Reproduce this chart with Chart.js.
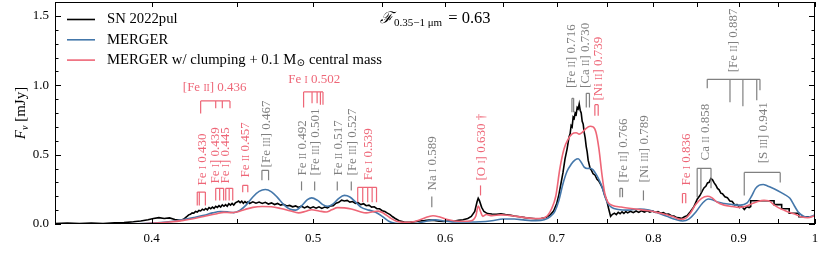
<!DOCTYPE html>
<html>
<head>
<meta charset="utf-8">
<script src="https://cdn.jsdelivr.net/npm/chart.js@4.4.0/dist/chart.umd.min.js"></script>
<style>
html, body { margin: 0; padding: 0; background: #fff; }
</style>
</head>
<body>
<canvas id="spec" width="831" height="271"></canvas>
<script>
// observed spectrum, wavelength in micron / flux in mJy
var obsWave = [0.350, 0.356, 0.362, 0.368, 0.374, 0.380, 0.385, 0.390, 0.394, 0.398,
  0.401, 0.404, 0.407, 0.410, 0.413, 0.416, 0.418, 0.420, 0.421, 0.422,
  0.423, 0.424, 0.425, 0.426, 0.427, 0.428, 0.429, 0.430, 0.431, 0.432,
  0.433, 0.434, 0.435, 0.436, 0.437, 0.438, 0.439, 0.440, 0.441, 0.442,
  0.443, 0.444, 0.445, 0.446, 0.447, 0.448, 0.449, 0.450, 0.451, 0.452,
  0.453, 0.454, 0.455, 0.456, 0.457, 0.458, 0.460, 0.462, 0.464, 0.466,
  0.468, 0.470, 0.472, 0.474, 0.476, 0.478, 0.480, 0.482, 0.484, 0.486,
  0.488, 0.490, 0.492, 0.494, 0.496, 0.498, 0.500, 0.502, 0.504, 0.506,
  0.508, 0.510, 0.512, 0.514, 0.516, 0.518, 0.520, 0.522, 0.524, 0.526,
  0.528, 0.530, 0.532, 0.534, 0.536, 0.538, 0.540, 0.542, 0.544, 0.546,
  0.548, 0.550, 0.552, 0.554, 0.556, 0.558, 0.560, 0.563, 0.567, 0.571,
  0.575, 0.579, 0.583, 0.587, 0.591, 0.595, 0.599, 0.603, 0.607, 0.611,
  0.615, 0.619, 0.622, 0.625, 0.627, 0.628, 0.629, 0.631, 0.633, 0.636,
  0.640, 0.644, 0.648, 0.652, 0.656, 0.660, 0.665, 0.670, 0.675, 0.680,
  0.685, 0.690, 0.694, 0.697, 0.700, 0.702, 0.704, 0.706, 0.708, 0.710,
  0.712, 0.713, 0.714, 0.715, 0.716, 0.717, 0.718, 0.719, 0.720, 0.721,
  0.722, 0.723, 0.724, 0.725, 0.726, 0.727, 0.728, 0.729, 0.730, 0.731,
  0.732, 0.733, 0.734, 0.736, 0.738, 0.740, 0.742, 0.744, 0.746, 0.748,
  0.750, 0.752, 0.754, 0.756, 0.758, 0.760, 0.762, 0.764, 0.766, 0.768,
  0.770, 0.772, 0.775, 0.778, 0.781, 0.784, 0.787, 0.790, 0.793, 0.796,
  0.799, 0.802, 0.805, 0.808, 0.811, 0.814, 0.817, 0.820, 0.823, 0.826,
  0.829, 0.832, 0.835, 0.838, 0.842, 0.846, 0.850, 0.853, 0.856, 0.858,
  0.860, 0.862, 0.864, 0.866, 0.868, 0.870, 0.872, 0.874, 0.876, 0.878,
  0.880, 0.883, 0.886, 0.889, 0.892, 0.895, 0.898, 0.901, 0.904, 0.907,
  0.910, 0.913, 0.915, 0.915, 0.945, 0.945, 0.955, 0.955, 0.965, 0.965,
  0.978, 0.978, 0.992];
var obsFlux = [0.004, 0.006, 0.003, 0.006, 0.004, 0.008, 0.010, 0.016, 0.022, 0.030,
  0.040, 0.046, 0.040, 0.044, 0.032, 0.026, 0.034, 0.055, 0.066, 0.070,
  0.080, 0.078, 0.090, 0.086, 0.098, 0.094, 0.106, 0.100, 0.112, 0.102,
  0.118, 0.110, 0.122, 0.112, 0.128, 0.120, 0.132, 0.122, 0.138, 0.128,
  0.140, 0.128, 0.146, 0.136, 0.148, 0.136, 0.152, 0.158, 0.166, 0.154,
  0.164, 0.150, 0.162, 0.152, 0.160, 0.148, 0.160, 0.150, 0.158, 0.148,
  0.156, 0.144, 0.152, 0.140, 0.148, 0.136, 0.142, 0.130, 0.134, 0.124,
  0.130, 0.120, 0.128, 0.116, 0.126, 0.114, 0.124, 0.114, 0.124, 0.112,
  0.122, 0.116, 0.130, 0.132, 0.150, 0.156, 0.172, 0.166, 0.170, 0.158,
  0.162, 0.148, 0.154, 0.140, 0.146, 0.132, 0.136, 0.122, 0.124, 0.110,
  0.110, 0.096, 0.090, 0.078, 0.068, 0.052, 0.040, 0.024, 0.014, 0.012,
  0.016, 0.022, 0.024, 0.028, 0.026, 0.020, 0.018, 0.022, 0.020, 0.026,
  0.030, 0.040, 0.055, 0.090, 0.160, 0.185, 0.170, 0.120, 0.090, 0.075,
  0.072, 0.070, 0.074, 0.068, 0.064, 0.058, 0.052, 0.046, 0.042, 0.038,
  0.040, 0.048, 0.068, 0.095, 0.150, 0.210, 0.290, 0.370, 0.470, 0.540,
  0.630, 0.650, 0.710, 0.700, 0.770, 0.760, 0.800, 0.790, 0.840, 0.830,
  0.865, 0.820, 0.800, 0.740, 0.720, 0.660, 0.620, 0.560, 0.520, 0.460,
  0.430, 0.400, 0.392, 0.362, 0.352, 0.322, 0.308, 0.282, 0.252, 0.206,
  0.170, 0.110, 0.055, 0.070, 0.078, 0.068, 0.084, 0.074, 0.088, 0.076,
  0.090, 0.080, 0.092, 0.082, 0.094, 0.084, 0.096, 0.086, 0.096, 0.086,
  0.094, 0.084, 0.090, 0.078, 0.082, 0.070, 0.072, 0.060, 0.058, 0.046,
  0.044, 0.040, 0.052, 0.060, 0.090, 0.125, 0.180, 0.205, 0.240, 0.262,
  0.272, 0.296, 0.300, 0.328, 0.318, 0.296, 0.280, 0.256, 0.246, 0.222,
  0.218, 0.196, 0.190, 0.166, 0.162, 0.138, 0.140, 0.118, 0.126, 0.104,
  0.124, 0.118, 0.126, 0.168, 0.168, 0.140, 0.140, 0.110, 0.110, 0.078,
  0.078, 0.052, 0.052];

// MERGER model
var mergerWave = [0.350, 0.380, 0.395, 0.405, 0.412, 0.418, 0.424, 0.430, 0.435, 0.440, 0.444, 0.448, 0.452, 0.456, 0.460, 0.464, 0.468, 0.472, 0.476, 0.480,
  0.484, 0.488, 0.492, 0.496, 0.499, 0.503, 0.507, 0.510, 0.514, 0.518, 0.522, 0.526, 0.530, 0.534, 0.540, 0.545, 0.550, 0.555, 0.560, 0.570,
  0.578, 0.585, 0.592, 0.600, 0.610, 0.620, 0.630, 0.640, 0.650, 0.660, 0.670, 0.680, 0.688, 0.694, 0.698, 0.702, 0.706, 0.710, 0.714, 0.718,
  0.721, 0.724, 0.727, 0.730, 0.733, 0.736, 0.739, 0.742, 0.745, 0.748, 0.751, 0.755, 0.762, 0.772, 0.785, 0.795, 0.805, 0.815, 0.825, 0.833,
  0.840, 0.848, 0.856, 0.863, 0.868, 0.874, 0.882, 0.892, 0.902, 0.910, 0.916, 0.921, 0.926, 0.931, 0.936, 0.942, 0.950, 0.958, 0.966, 0.972,
  0.978, 0.985, 0.992, 1.000];
var mergerFlux = [0.000, 0.001, 0.004, 0.010, 0.020, 0.032, 0.046, 0.062, 0.080, 0.090, 0.088, 0.082, 0.100, 0.140, 0.195, 0.235, 0.249, 0.232, 0.190, 0.140,
  0.108, 0.100, 0.130, 0.175, 0.188, 0.170, 0.138, 0.127, 0.145, 0.185, 0.206, 0.195, 0.160, 0.122, 0.100, 0.085, 0.055, 0.020, 0.005, 0.000,
  0.006, 0.022, 0.030, 0.020, 0.014, 0.014, 0.016, 0.024, 0.036, 0.036, 0.028, 0.024, 0.030, 0.055, 0.090, 0.170, 0.290, 0.380, 0.430, 0.462,
  0.470, 0.445, 0.410, 0.400, 0.402, 0.390, 0.360, 0.320, 0.270, 0.200, 0.150, 0.120, 0.105, 0.100, 0.108, 0.100, 0.080, 0.055, 0.032, 0.022,
  0.035, 0.085, 0.150, 0.180, 0.175, 0.158, 0.148, 0.140, 0.136, 0.150, 0.200, 0.255, 0.280, 0.285, 0.275, 0.262, 0.240, 0.215, 0.185, 0.130,
  0.080, 0.055, 0.050, 0.065];

// MERGER w/ clumping + 0.1 Msun central mass
var clumpWave = [0.350, 0.390, 0.400, 0.410, 0.418, 0.425, 0.431, 0.437, 0.442, 0.446, 0.450, 0.455, 0.460, 0.466, 0.472, 0.478, 0.484, 0.490, 0.495, 0.499,
  0.504, 0.509, 0.513, 0.517, 0.522, 0.527, 0.533, 0.538, 0.543, 0.547, 0.551, 0.556, 0.561, 0.567, 0.574, 0.580, 0.586, 0.590, 0.595, 0.601,
  0.608, 0.615, 0.622, 0.626, 0.628, 0.630, 0.632, 0.635, 0.640, 0.648, 0.655, 0.662, 0.670, 0.678, 0.686, 0.691, 0.695, 0.699, 0.703, 0.707,
  0.711, 0.715, 0.719, 0.722, 0.725, 0.729, 0.733, 0.736, 0.739, 0.742, 0.745, 0.748, 0.751, 0.756, 0.765, 0.780, 0.795, 0.805, 0.815, 0.823,
  0.830, 0.836, 0.842, 0.848, 0.855, 0.862, 0.867, 0.873, 0.882, 0.892, 0.900, 0.908, 0.916, 0.924, 0.932, 0.938, 0.944, 0.950, 0.958, 0.966,
  0.974, 0.982, 0.990, 1.000];
var clumpFlux = [0.000, 0.001, 0.005, 0.014, 0.026, 0.042, 0.058, 0.072, 0.084, 0.082, 0.086, 0.105, 0.120, 0.126, 0.124, 0.112, 0.096, 0.080, 0.092, 0.103,
  0.094, 0.086, 0.102, 0.118, 0.116, 0.108, 0.090, 0.080, 0.088, 0.093, 0.078, 0.045, 0.020, 0.012, 0.016, 0.032, 0.052, 0.060, 0.052, 0.034,
  0.022, 0.020, 0.024, 0.060, 0.130, 0.090, 0.055, 0.068, 0.060, 0.066, 0.062, 0.055, 0.046, 0.040, 0.042, 0.060, 0.110, 0.200, 0.400, 0.540,
  0.610, 0.650, 0.658, 0.648, 0.660, 0.690, 0.704, 0.700, 0.660, 0.540, 0.360, 0.220, 0.160, 0.134, 0.122, 0.108, 0.095, 0.082, 0.066, 0.050,
  0.034, 0.040, 0.080, 0.140, 0.185, 0.200, 0.190, 0.160, 0.136, 0.126, 0.120, 0.126, 0.145, 0.162, 0.170, 0.168, 0.142, 0.120, 0.100, 0.082,
  0.068, 0.050, 0.045, 0.060];

var xTickVals = [0.35, 0.4, 0.45, 0.5, 0.55, 0.6, 0.65, 0.7, 0.75, 0.8, 0.85, 0.9, 0.95, 1.0];
var xLabelVals = [0.4, 0.5, 0.6, 0.7, 0.8, 0.9, 1.0];
var xLabels = ['0.4', '0.5', '0.6', '0.7', '0.8', '0.9', '1'];
var yLabelVals = [0, 0.5, 1.0, 1.5];
var yLabels = ['0.0', '0.5', '1.0', '1.5'];
var yMinorVals = [0.1, 0.2, 0.3, 0.4, 0.6, 0.7, 0.8, 0.9, 1.1, 1.2, 1.3, 1.4, 1.6];

var R = '#EE6677', G = '#808080', B = '#4477AA';
var FONT = "'Liberation Serif', 'DejaVu Serif', serif";

// line identifications: text, x, text bottom (flux), colour, marker legs, bar top, leg ends
var annot = [
  {t: 'Fe |I| 0.430', x: 0.4285, y: 0.278, c: R, legs: [0.4260, 0.4272, 0.4308], top: 0.230, bot: 0.134},
  {t: 'Fe |I|] 0.439', x: 0.4365, y: 0.292, c: R, legs: [0.4370, 0.4394, 0.4418], top: 0.257, bot: 0.170},
  {t: 'Fe |I|] 0.445', x: 0.4424, y: 0.292, c: R, legs: [0.4431, 0.4452, 0.4474], top: 0.257, bot: 0.170},
  {t: 'Fe |II| 0.457', x: 0.455, y: 0.336, c: R, legs: [0.4536, 0.4568], top: 0.279, bot: 0.228},
  {t: '[Fe |III|] 0.467', x: 0.468, y: 0.408, c: G, legs: [0.4658, 0.4701], top: 0.387, bot: 0.315},
  {t: 'Fe |II| 0.492', x: 0.492, y: 0.350, c: G, legs: [0.492], top: 0.307, bot: 0.242},
  {t: '[Fe |III|] 0.501', x: 0.501, y: 0.350, c: G, legs: [0.501], top: 0.307, bot: 0.242},
  {t: 'Fe |II| 0.517', x: 0.5169, y: 0.350, c: G, legs: [0.5169], top: 0.307, bot: 0.242},
  {t: '[Fe |III|] 0.527', x: 0.527, y: 0.350, c: G, legs: [0.527], top: 0.307, bot: 0.242},
  {t: 'Fe |I| 0.539', x: 0.5387, y: 0.315, c: R, legs: [0.5317, 0.5354, 0.5391, 0.5424, 0.5457], top: 0.264, bot: 0.156},
  {t: 'Na |I| 0.589', x: 0.589, y: 0.242, c: G, legs: [0.589], top: 0.199, bot: 0.120},
  {t: '[O |I|] 0.630 \u2020', x: 0.630, y: 0.313, c: R, legs: [0.630], top: 0.278, bot: 0.206},
  {t: '[Fe |II|] 0.716', x: 0.7136, y: 0.980, c: G, legs: [0.7148, 0.7165], top: 0.906, bot: 0.805},
  {t: '[Ca |II|] 0.730', x: 0.7274, y: 0.980, c: G, legs: [0.7291, 0.7323], top: 0.942, bot: 0.840},
  {t: '[Ni |II|] 0.739', x: 0.7406, y: 0.890, c: R, legs: [0.7378, 0.7412], top: 0.860, bot: 0.780},
  {t: '[Fe |II|] 0.766', x: 0.766, y: 0.300, c: G, legs: [0.7638, 0.7665], top: 0.257, bot: 0.192},
  {t: '[Ni |III|] 0.789', x: 0.789, y: 0.300, c: G, legs: [0.789], top: 0.242, bot: 0.170},
  {t: 'Fe |I| 0.836', x: 0.836, y: 0.278, c: R, legs: [0.8327, 0.8365], top: 0.220, bot: 0.149},
  {t: 'Ca |II| 0.858', x: 0.858, y: 0.458, c: G, legs: [0.8498, 0.8542, 0.8662], top: 0.401, bot: [0.192, 0.228, 0.257]},
  {t: '[Fe |II|] 0.887', x: 0.8925, y: 1.093, c: G, legs: [0.8617, 0.8892, 0.9052, 0.9227, 0.9268], top: 1.043, bot: [0.979, 0.877, 0.848, 0.892, 0.964]},
  {t: '[S |III|] 0.941', x: 0.930, y: 0.437, c: G, legs: [0.9069, 0.9531], top: 0.372, bot: [0.206, 0.300]},
  {t: '[Fe |II|] 0.436', x: 0.4364, y: 0.988, c: R, flat: true, legs: [0.428, 0.437, 0.441, 0.4457], top: 0.887, bot: [0.796, 0.834, 0.834, 0.834]},
  {t: 'Fe |I| 0.502', x: 0.5007, y: 1.050, c: R, flat: true, legs: [0.4934, 0.4992, 0.5027, 0.5050, 0.5068], top: 0.952, bot: [0.840, 0.870, 0.870, 0.860, 0.860]}
];

function pts(w, f) {
  return w.map(function (x, i) { return {x: x, y: f[i]}; });
}

// text with small-caps roman numerals between bars
function drawRich(ctx, str, x, y, size, align) {
  var parts = str.split('|');
  var w = 0, i;
  for (i = 0; i < parts.length; i++) {
    ctx.font = (i % 2 ? size * 0.74 : size) + 'px ' + FONT;
    w += ctx.measureText(parts[i]).width;
  }
  var cx = align === 'center' ? x - w / 2 : x;
  ctx.textAlign = 'left';
  ctx.textBaseline = 'alphabetic';
  for (i = 0; i < parts.length; i++) {
    ctx.font = (i % 2 ? size * 0.74 : size) + 'px ' + FONT;
    ctx.fillText(parts[i], cx, y);
    cx += ctx.measureText(parts[i]).width;
  }
}

var overlay = {
  id: 'overlay',
  afterDraw: function (chart) {
    var ctx = chart.ctx, a = chart.chartArea, xs = chart.scales.x, ys = chart.scales.y;
    ctx.save();

    // frame and inward ticks
    ctx.strokeStyle = '#000';
    ctx.lineWidth = 1;
    ctx.strokeRect(a.left + 0.5, a.top + 0.5, a.right - a.left - 1, a.bottom - a.top - 1);
    ctx.beginPath();
    xTickVals.forEach(function (v) {
      var p = Math.round(xs.getPixelForValue(v)) + 0.5;
      ctx.moveTo(p, a.bottom); ctx.lineTo(p, a.bottom - 5);
      ctx.moveTo(p, a.top); ctx.lineTo(p, a.top + 5);
    });
    yLabelVals.forEach(function (v) {
      var p = Math.round(ys.getPixelForValue(v)) + 0.5;
      ctx.moveTo(a.left, p); ctx.lineTo(a.left + 6, p);
      ctx.moveTo(a.right, p); ctx.lineTo(a.right - 6, p);
    });
    yMinorVals.forEach(function (v) {
      var p = Math.round(ys.getPixelForValue(v)) + 0.5;
      ctx.moveTo(a.left, p); ctx.lineTo(a.left + 3.5, p);
      ctx.moveTo(a.right, p); ctx.lineTo(a.right - 3.5, p);
    });
    ctx.stroke();

    // line identifications
    var fs = 13;
    annot.forEach(function (an) {
      ctx.strokeStyle = an.c;
      ctx.fillStyle = an.c;
      ctx.lineWidth = 1.2;
      var topP = ys.getPixelForValue(an.top);
      ctx.beginPath();
      if (an.legs.length > 1) {
        ctx.moveTo(xs.getPixelForValue(an.legs[0]), topP);
        ctx.lineTo(xs.getPixelForValue(an.legs[an.legs.length - 1]), topP);
      }
      an.legs.forEach(function (l, i) {
        var b = Array.isArray(an.bot) ? an.bot[i] : an.bot;
        var lp = xs.getPixelForValue(l);
        ctx.moveTo(lp, topP);
        ctx.lineTo(lp, ys.getPixelForValue(b));
      });
      ctx.stroke();
      var px = xs.getPixelForValue(an.x), py = ys.getPixelForValue(an.y);
      if (an.flat) {
        drawRich(ctx, an.t, px, py + fs * 0.35, fs, 'center');
      } else {
        ctx.save();
        ctx.translate(px, py);
        ctx.rotate(-Math.PI / 2);
        drawRich(ctx, an.t, 0, fs * 0.35, fs, 'left');
        ctx.restore();
      }
    });

    // legend
    var ds = chart.data.datasets;
    ds.forEach(function (d, i) {
      var ly = a.top + 17.5 + i * 20.3;
      ctx.strokeStyle = d.borderColor;
      ctx.lineWidth = 1.6;
      ctx.beginPath();
      ctx.moveTo(a.left + 12, ly); ctx.lineTo(a.left + 40, ly);
      ctx.stroke();
      ctx.fillStyle = '#000';
      ctx.textBaseline = 'middle';
      ctx.textAlign = 'left';
      var parts = d.label.split('\u2299');
      var tx = a.left + 52;
      ctx.font = '14.7px ' + FONT;
      ctx.fillText(parts[0], tx, ly);
      if (parts.length > 1) {
        tx += ctx.measureText(parts[0]).width;
        ctx.font = '10.5px ' + FONT;
        ctx.fillText('\u2299', tx, ly + 3);
        tx += ctx.measureText('\u2299').width;
        ctx.font = '14.7px ' + FONT;
        ctx.fillText(parts[1], tx, ly);
      }
    });

    // flux fraction note
    ctx.fillStyle = '#000';
    ctx.textBaseline = 'alphabetic';
    var fx = a.left + 0.4276 * (a.right - a.left), fy = a.top + 21;
    ctx.font = 'italic 16px ' + FONT;
    ctx.fillText('\u2131', fx, fy);
    fx += ctx.measureText('\u2131').width + 1;
    ctx.font = '11px ' + FONT;
    ctx.fillText('0.35\u22121 \u03bcm', fx, fy + 3);
    fx += ctx.measureText('0.35\u22121 \u03bcm').width + 2;
    ctx.font = '16.5px ' + FONT;
    ctx.fillText(' = 0.63', fx, fy);

    // y axis title
    ctx.save();
    ctx.translate(20, (a.top + a.bottom) / 2);
    ctx.rotate(-Math.PI / 2);
    var t1 = 'F', t2 = '\u03bd', t3 = ' [mJy]';
    ctx.font = 'italic 15px ' + FONT;
    var w1 = ctx.measureText(t1).width;
    ctx.font = 'italic 10px ' + FONT;
    var w2 = ctx.measureText(t2).width;
    ctx.font = '15px ' + FONT;
    var w3 = ctx.measureText(t3).width;
    var sx = -(w1 + w2 + w3) / 2;
    ctx.font = 'italic 15px ' + FONT;
    ctx.fillText(t1, sx, 5);
    ctx.font = 'italic 10px ' + FONT;
    ctx.fillText(t2, sx + w1, 8);
    ctx.font = '15px ' + FONT;
    ctx.fillText(t3, sx + w1 + w2, 5);
    ctx.restore();

    ctx.restore();
  }
};

new Chart(document.getElementById('spec'), {
  type: 'line',
  data: {
    datasets: [
      {label: 'SN 2022pul', data: pts(obsWave, obsFlux), borderColor: '#000', borderWidth: 1.6, pointRadius: 0, tension: 0, order: 3},
      {label: 'MERGER', data: pts(mergerWave, mergerFlux), borderColor: B, borderWidth: 1.6, pointRadius: 0, cubicInterpolationMode: 'monotone', order: 2},
      {label: 'MERGER w/ clumping + 0.1 M\u2299 central mass', data: pts(clumpWave, clumpFlux), borderColor: R, borderWidth: 1.6, pointRadius: 0, cubicInterpolationMode: 'monotone', order: 1}
    ]
  },
  options: {
    responsive: false,
    animation: false,
    layout: {padding: {top: 2, right: 16, left: 0, bottom: 0}},
    plugins: {legend: {display: false}, tooltip: {enabled: false}},
    scales: {
      x: {
        type: 'logarithmic', min: 0.35, max: 1.0,
        grid: {display: false, drawTicks: false},
        border: {display: false},
        afterBuildTicks: function (s) { s.ticks = xLabelVals.map(function (v) { return {value: v}; }); },
        afterFit: function (s) { s.height = 47; s.paddingLeft = 0; s.paddingRight = 0; },
        ticks: {
          autoSkip: false, maxRotation: 0, padding: 7, color: '#000',
          font: {family: FONT, size: 13},
          callback: function (v, i) { return xLabels[i]; }
        }
      },
      y: {
        type: 'linear', min: 0, max: 1.6,
        grid: {display: false, drawTicks: false},
        border: {display: false},
        afterBuildTicks: function (s) { s.ticks = yLabelVals.map(function (v) { return {value: v}; }); },
        afterFit: function (s) { s.width = 55; s.paddingTop = 0; s.paddingBottom = 0; },
        ticks: {
          padding: 6, color: '#000',
          font: {family: FONT, size: 13},
          callback: function (v, i) { return yLabels[i]; }
        }
      }
    }
  },
  plugins: [overlay]
});
</script>
</body>
</html>
